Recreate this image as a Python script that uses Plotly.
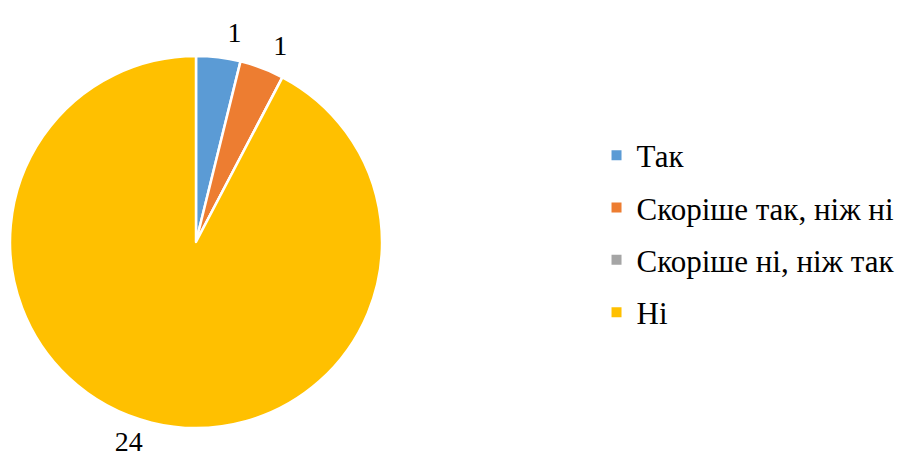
import plotly.graph_objects as go

categories = ["Так", "Скоріше так, ніж ні", "Скоріше ні, ніж так", "Ні"]
values = [1, 1, 0, 24]
colors = ["#5B9BD5", "#ED7D31", "#A5A5A5", "#FFC000"]

W, H = 900, 459
FONT = "Liberation Serif"
CX, CY, R = 196, 242, 186      # pie centre / radius in pixels


def dom(r):
    return dict(x=[max(CX - r, 0) / W, (CX + r) / W],
                y=[1 - (CY + r) / H, 1 - (CY - r) / H])


fig = go.Figure()
# visible pie (no text)
fig.add_trace(go.Pie(
    labels=categories, values=values, sort=False, direction="clockwise",
    rotation=0, automargin=False, textinfo="none",
    marker=dict(colors=colors, line=dict(color="white", width=2.5)),
    showlegend=False, domain=dom(R), hoverinfo="label+value",
))

# transparent pies that only carry the value labels (split to avoid leader lines)
label_sets = [([0], 196), ([1], 196), ([3], 190)]
for idxs, rl in label_sets:
    txt = [str(v) if (i in idxs and v > 0) else "" for i, v in enumerate(values)]
    fig.add_trace(go.Pie(
        labels=categories, values=values, sort=False, direction="clockwise",
        rotation=0, automargin=False, text=txt, textinfo="text",
        textposition="outside",
        textfont=dict(family=FONT, size=28, color="#000000"),
        marker=dict(colors=["rgba(0,0,0,0)"] * len(values), line=dict(width=0)),
        showlegend=False, domain=dom(rl), hoverinfo="skip",
    ))

for i, (cat, col) in enumerate(zip(categories, colors)):
    fig.add_trace(go.Scatter(
        x=[None], y=[None], mode="markers", name=cat,
        marker=dict(symbol="square", size=10, color=col),
        legendgroup=f"g{i}", showlegend=True, hoverinfo="skip",
    ))

fig.update_layout(
    width=W, height=H,
    margin=dict(l=0, r=0, t=0, b=0, autoexpand=False),
    paper_bgcolor="white", plot_bgcolor="white",
    xaxis=dict(visible=False), yaxis=dict(visible=False),
    legend=dict(
        x=0.6628, y=0.490, xanchor="left", yanchor="middle",
        font=dict(family=FONT, size=31, color="#000000"),
        tracegroupgap=9,
        bgcolor="rgba(0,0,0,0)",
        itemclick=False, itemdoubleclick=False,
    ),
    font=dict(family=FONT),
)

fig.write_html("out.html", config={"displayModeBar": False},
               post_script="document.body.style.margin='0px';")
